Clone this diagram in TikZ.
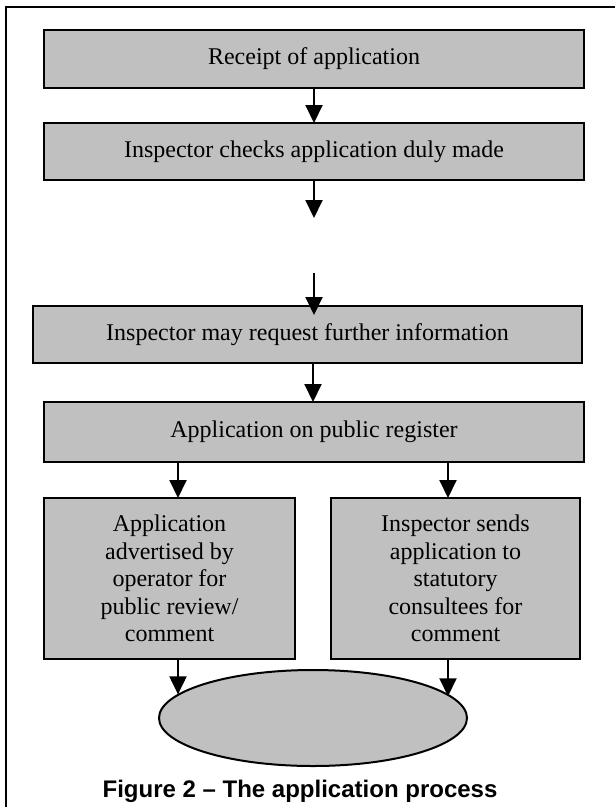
\documentclass[tikz,border=0pt]{standalone}
\usepackage{fontspec}
\setmainfont{Liberation Serif}
\newfontfamily\capfont{Liberation Sans}
\usetikzlibrary{arrows.meta,shapes.geometric,calc}
\definecolor{boxgray}{HTML}{C0C0C0}
\begin{document}
\begin{tikzpicture}[x=1pt,y=-1pt,
  procbox/.style={draw=black, fill=boxgray, line width=2.5pt, inner sep=0pt, outer sep=0pt,
    font=\fontsize{24}{27.5}\selectfont, align=center},
  endoval/.style={ellipse, draw=black, fill=boxgray, line width=2pt, inner sep=0pt, outer sep=0pt},
  arr/.style={line width=2pt, -{Triangle[width=17pt,length=18pt]}},
  frameline/.style={line width=2pt}]
\useasboundingbox (0,0) rectangle (615,807);
\draw[frameline] (615,7) -- (6,7) -- (6,808);

\node[procbox, minimum width=540pt, minimum height=58pt] (b1) at (314,59) {Receipt of application};
\node[procbox, minimum width=540pt, minimum height=57pt] (b2) at (314,151.5) {Inspector checks application duly made};
\node[procbox, minimum width=549pt, minimum height=57pt] (b3) at (307.5,334.5) {Inspector may request further information};
\node[procbox, minimum width=540pt, minimum height=60pt] (b4) at (314,432) {Application on public register};
\node[procbox, minimum width=251pt, minimum height=161pt] (lb) at (169.5,578.5)
  {Application\\advertised by\\operator for\\public review/\\comment};
\node[procbox, minimum width=249pt, minimum height=161pt] (rb) at (455.5,578.5)
  {Inspector sends\\application to\\statutory\\consultees for\\comment};
\node[endoval, minimum width=308pt, minimum height=96pt] (el) at (313,718) {};

\node[font=\capfont\bfseries\fontsize{24}{28}\selectfont, anchor=base, inner sep=0pt] (cap) at (300,797)
  {Figure 2 – The application process};

\coordinate (mx) at (314,0);
\coordinate (g1) at (314,218);
\coordinate (g2) at (314,273);
\coordinate (lx) at (178,0);
\coordinate (rx) at (448,0);

\draw[arr] (b1.south -| mx) -- (b2.north -| mx);
\draw[arr] (b2.south -| mx) -- (g1);
\draw[arr] (g2) -- ([yshift=-9pt]b3.north -| mx);
\draw[arr] (b3.south -| 313,0) -- (b4.north -| 313,0);
\draw[arr] (b4.south -| lx) -- (lb.north -| lx);
\draw[arr] (b4.south -| rx) -- (rb.north -| rx);
\draw[arr] (lb.south -| lx) -- (lx |- el.170.3);
\draw[arr] (rb.south -| rx) -- (rx |- el.9.7);
\end{tikzpicture}
\end{document}
